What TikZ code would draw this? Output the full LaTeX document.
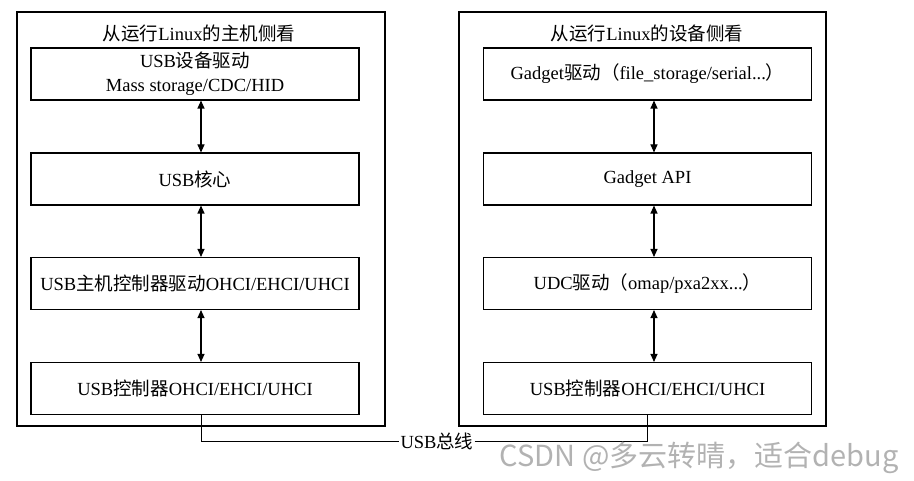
\documentclass[tikz,border=0pt]{standalone}
\usepackage{fontspec}
\setmainfont{Liberation Serif}
\newfontfamily\cjk{Noto Sans CJK SC}
\usepackage{tikz}
\usetikzlibrary{arrows.meta}
\newcommand{\zh}[1]{{\cjk #1}}
\tikzset{
  layer/.style={draw, line width=1.1pt, minimum width=328pt, minimum height=52pt,
    inner sep=0pt, align=center, font=\fontsize{18.5}{24}\selectfont},
  side/.style={draw, line width=1.1pt},
  link/.style={line width=1.1pt, {Triangle[length=8pt,width=7pt]}-{Triangle[length=8pt,width=7pt]}},
  bus/.style={line width=0.9pt}
}

\begin{document}
\begin{tikzpicture}[x=1pt, y=-1pt]
        \useasboundingbox (0, 0) rectangle (914, 481);
        % host side
        \draw[side] (17, 12) rectangle (385, 426);
        \node[font=\fontsize{18.5}{22}\selectfont] (htitle) at (199, 33) {\zh{从运行}Linux\zh{的主机侧看}};
        \node[layer] (h1) at (195, 74) {USB\zh{设备驱动}\\Mass storage/CDC/HID};
        \node[layer] (h2) at (195, 179) {USB\zh{核心}};
        \node[layer] (h3) at (195, 283.5) {USB\zh{主机控制器驱动}OHCI/EHCI/UHCI};
        \node[layer] (h4) at (195, 388.5) {USB\zh{控制器}OHCI/EHCI/UHCI};
        \draw[link] ([xshift=6pt]h1.south) -- ([xshift=6pt]h2.north);
        \draw[link] ([xshift=6pt]h2.south) -- ([xshift=6pt]h3.north);
        \draw[link] ([xshift=6pt]h3.south) -- ([xshift=6pt]h4.north);
        % device side
        \draw[side] (459, 12) rectangle (826, 426);
        \node[font=\fontsize{18.5}{22}\selectfont] (dtitle) at (647, 33) {\zh{从运行}Linux\zh{的设备侧看}};
        \node[layer] (d1) at (647.5, 74) {Gadget\zh{驱动（}file\_storage/serial...\zh{）}};
        \node[layer] (d2) at (647.5, 179) {Gadget API};
        \node[layer] (d3) at (647.5, 283.5) {UDC\zh{驱动（}omap/pxa2xx...\zh{）}};
        \node[layer] (d4) at (647.5, 388.5) {USB\zh{控制器}OHCI/EHCI/UHCI};
        \draw[link] ([xshift=6.5pt]d1.south) -- ([xshift=6.5pt]d2.north);
        \draw[link] ([xshift=6.5pt]d2.south) -- ([xshift=6.5pt]d3.north);
        \draw[link] ([xshift=6.5pt]d3.south) -- ([xshift=6.5pt]d4.north);
        % bus
        \node[fill=white, inner sep=1pt, font=\fontsize{18.5}{22}\selectfont] (usb) at (437, 441) {USB\zh{总线}};
        \draw[bus] ([xshift=6pt]h4.south) |- (usb.west);
        \draw[bus] (usb.east) -| (d4.south);
        \node[anchor=east, text=black!30, font=\cjk\fontsize{29}{32}\selectfont] (mark) at (902, 458) {CSDN @多云转晴，适合debug};
      \end{tikzpicture}
\end{document}
